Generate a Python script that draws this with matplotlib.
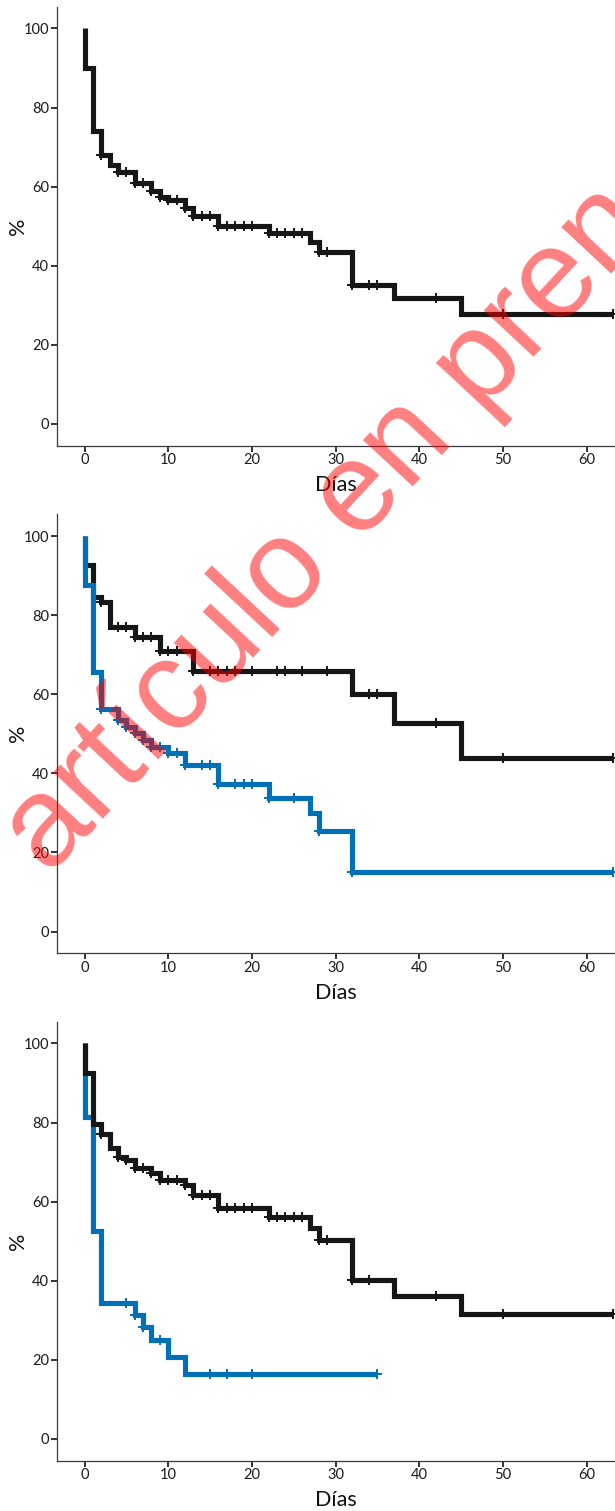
import numpy as np
import matplotlib
matplotlib.use("Agg")
import matplotlib.pyplot as plt

plt.rcParams['font.family'] = ['Lato', 'DejaVu Sans']

# --- data --------------------------------------------------------------
# panel 1: whole cohort
p1_black_time = [0, 1, 2, 3, 4, 6, 8, 9, 10, 12, 13, 16, 22, 27, 28, 32, 37, 45]
p1_black_surv = [90.0, 74.0, 68.1, 65.6, 63.8, 61.0, 59.0, 57.3, 56.6, 54.5, 52.6, 50.0,
                 48.2, 45.9, 43.4, 35.2, 31.9, 27.9]
p1_black_cens = [2, 4, 5, 6, 7, 8, 9, 10, 11, 12, 13, 14, 15, 16, 17, 18, 19, 20,
                 22, 23, 24, 25, 26, 28, 29, 32, 34, 35, 42, 50, 63.2]
p1_black_end = 63.2

# panel 2: two groups
p2_black_time = [0, 1, 2, 3, 6, 9, 13, 32, 37, 45]
p2_black_surv = [92.7, 84.5, 83.3, 77.1, 74.5, 70.9, 65.9, 60.1, 52.7, 43.8]
p2_black_cens = [2, 4, 5, 6, 7, 8, 9, 10, 11, 13, 15, 16, 17, 18, 20, 23, 24, 26, 29,
                 34, 35, 42, 50, 63.2]
p2_black_end = 63.2

p2_blue_time = [0, 1, 2, 4, 5, 6, 7, 8, 10, 12, 16, 22, 27, 28, 32]
p2_blue_surv = [87.5, 65.5, 56.2, 53.4, 51.8, 50.1, 48.5, 46.7, 45.2, 42.0, 37.3, 33.7,
                29.9, 25.5, 15.1]
p2_blue_cens = [2, 4, 5, 6, 7, 8, 9, 10, 11, 12, 14, 15, 16, 18, 19, 20, 22, 25, 28,
                32, 63.2]
p2_blue_end = 63.2

# panel 3: two groups
p3_black_time = [0, 1, 2, 3, 4, 5, 6, 8, 9, 12, 13, 16, 22, 27, 28, 32, 37, 45]
p3_black_surv = [92.5, 79.6, 77.0, 73.6, 71.3, 70.6, 68.4, 67.3, 65.4, 64.1, 61.6, 58.4,
                 56.1, 53.3, 50.2, 40.1, 36.2, 31.6]
p3_black_cens = [2, 4, 5, 6, 7, 8, 9, 10, 11, 12, 13, 14, 15, 16, 17, 18, 19, 20,
                 22, 23, 24, 25, 26, 28, 29, 32, 34, 42, 50, 63.2]
p3_black_end = 63.2

p3_blue_time = [0, 1, 2, 6, 7, 8, 10, 12]
p3_blue_surv = [81.3, 52.5, 34.3, 31.4, 28.4, 24.9, 20.8, 16.5]
p3_blue_cens = [5, 6, 7, 9, 15, 17, 20, 35]
p3_blue_end = 35

x_ticks = [0, 10, 20, 30, 40, 50, 60]
y_ticks = [0, 20, 40, 60, 80, 100]

BLACK = '#161616'
BLUE = '#0070B6'


def km_curve(ax, times, surv, cens, end, color, z):
    xs = np.r_[0.0, times, end]
    ys = np.r_[100.0, surv, surv[-1]]
    ax.step(xs, ys, where='post', color=color, lw=3.7, zorder=z,
            solid_joinstyle='miter', solid_capstyle='butt')
    # censor ticks sit on the curve
    allx = np.r_[0.0, times]
    ally = np.r_[100.0, surv]
    idx = np.searchsorted(allx, cens, side='right') - 1
    ax.plot(cens, ally[idx], ls='none', marker='+', ms=6.5, mew=1.4,
            color=color, zorder=z + 0.5, clip_on=False)


def style_axes(ax):
    ax.set_xlim(-3.33, 63.4)
    ax.set_ylim(-5.5, 105.5)
    ax.set_xticks(x_ticks)
    ax.set_yticks(y_ticks)
    for s in ['top', 'right']:
        ax.spines[s].set_visible(False)
    for s in ['left', 'bottom']:
        ax.spines[s].set_color('#3a3a3a')
        ax.spines[s].set_linewidth(0.9)
    ax.tick_params(length=4, width=1.2, color='#111111', labelsize=10.5,
                   labelcolor='#1a1a1a', pad=1.5)
    ax.set_xlabel('Días', fontsize=15.5, color='#111111')
    ax.set_ylabel('%', fontsize=15.5, color='#111111')
    ax.xaxis.set_label_coords(0.5, -0.0895)
    ax.xaxis.label.set_va('center')
    ax.yaxis.set_label_coords(-0.069, 0.5)
    ax.yaxis.label.set_va('center')
    ax.yaxis.label.set_ha('center')


W, H = 615, 1511
fig = plt.figure(figsize=(W / 100, H / 100), dpi=100)

left = 56.7 / W
width = 1 - left
height = 439.0 / H
bottoms = [1 - 445.7 / H, 1 - 953.3 / H, 1 - 1460.7 / H]

ax1 = fig.add_axes([left, bottoms[0], width, height])
km_curve(ax1, p1_black_time, p1_black_surv, p1_black_cens, p1_black_end, BLACK, 3)
style_axes(ax1)

ax2 = fig.add_axes([left, bottoms[1], width, height])
km_curve(ax2, p2_black_time, p2_black_surv, p2_black_cens, p2_black_end, BLACK, 3)
km_curve(ax2, p2_blue_time, p2_blue_surv, p2_blue_cens, p2_blue_end, BLUE, 4)
style_axes(ax2)

ax3 = fig.add_axes([left, bottoms[2], width, height])
km_curve(ax3, p3_blue_time, p3_blue_surv, p3_blue_cens, p3_blue_end, BLUE, 3)
km_curve(ax3, p3_black_time, p3_black_surv, p3_black_cens, p3_black_end, BLACK, 4)
style_axes(ax3)

# watermark over the whole page
fig.text(49 / W, 1 - 877 / H, 'artículo en prensa', rotation=47,
         rotation_mode='anchor', ha='left', va='baseline', fontsize=92,
         family=['Liberation Sans', 'DejaVu Sans'], color='red', alpha=0.5,
         zorder=10)

fig.savefig('out.png', dpi=100)
